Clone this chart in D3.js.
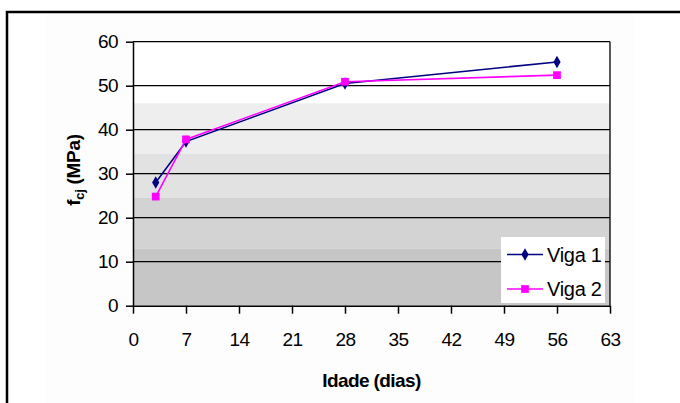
<!DOCTYPE html>
<html><head><meta charset="utf-8">
<script src="https://cdn.jsdelivr.net/npm/d3@7"></script>
<style>body{margin:0;background:#fff}svg{display:block}</style>
</head><body><svg id="c" width="680" height="403"></svg>
<script>
const days = [3, 7, 28, 56];
const viga1 = [28, 37.3, 50.5, 55.4];
const viga2 = [24.8, 37.8, 50.9, 52.4];
const seriesNames = ["Viga 1", "Viga 2"];
const xTicks = [0, 7, 14, 21, 28, 35, 42, 49, 56, 63];
const yTicks = [0, 10, 20, 30, 40, 50, 60];
const bandEdges = [60, 46, 34.5, 24.5, 13, 0];
const bandColors = ["#ffffff", "#eeeeee", "#e2e2e2", "#d3d3d3", "#c6c6c6"];

const svg = d3.select("#c");
const font = "'Liberation Sans', Arial, sans-serif";
const x = d3.scaleLinear().domain([0, 63]).range([133, 610]);
const y = d3.scaleLinear().domain([0, 60]).range([305.7, 41.7]);

// outer frame
svg.append("rect").attr("x", 7).attr("y", 12).attr("width", 700).attr("height", 420)
  .attr("fill", "#fff").attr("stroke", "#000").attr("stroke-width", 2.5);
svg.append("rect").attr("x", 45).attr("y", 14).attr("width", 590).attr("height", 400).attr("fill", "#fdfdfd");

// bands
const g = svg.append("g");
for (let i = 0; i < bandColors.length; i++) {
  g.append("rect").attr("x", x(0)).attr("y", y(bandEdges[i]))
    .attr("width", x(63) - x(0)).attr("height", y(bandEdges[i + 1]) - y(bandEdges[i]))
    .attr("fill", bandColors[i]);
}
// gridlines
g.selectAll("line.grid").data(yTicks.filter(d => d > 0)).join("line")
  .attr("x1", x(0)).attr("x2", x(63)).attr("y1", d => y(d)).attr("y2", d => y(d))
  .attr("stroke", "#000").attr("stroke-width", 1.3);
g.append("line").attr("x1", x(63)).attr("x2", x(63)).attr("y1", y(60)).attr("y2", y(0))
  .attr("stroke", "#000").attr("stroke-width", 1.3);

// axes
const xAxis = d3.axisBottom(x).tickValues(xTicks).tickSize(8).tickPadding(17).tickSizeOuter(0);
const yAxis = d3.axisLeft(y).tickValues(yTicks).tickSize(7).tickPadding(8).tickSizeOuter(0);
const gx = svg.append("g").attr("transform", `translate(0,${y(0)})`).call(xAxis);
const gy = svg.append("g").attr("transform", `translate(${x(0)},0)`).call(yAxis);
[gx, gy].forEach(a => {
  a.selectAll("path,line").attr("stroke", "#000").attr("stroke-width", 1.5);
  a.selectAll("text").attr("font-family", font).attr("font-size", 19).attr("fill", "#000")
    .attr("letter-spacing", -0.6);
});
gx.selectAll("text").attr("dy", "0.71em").attr("y", 27);

// lines
const series = [
  {name: seriesNames[0], vals: viga1, color: "#000080", sym: d3.symbolDiamond, size: 45},
  {name: seriesNames[1], vals: viga2, color: "#ff00ff", sym: d3.symbolSquare, size: 60}
];
const line = d3.line().x(d => x(d[0])).y(d => y(d[1]));
series.forEach(s => {
  const pts = days.map((d, i) => [d, s.vals[i]]);
  svg.append("path").attr("d", line(pts)).attr("fill", "none").attr("stroke", s.color).attr("stroke-width", 1.6);
  svg.selectAll(null).data(pts).join("path")
    .attr("transform", d => `translate(${x(d[0])},${y(d[1])})`)
    .attr("d", d3.symbol().type(s.sym).size(s.size)).attr("fill", s.color);
});

// legend
const lg = svg.append("g");
lg.append("rect").attr("x", 501).attr("y", 237).attr("width", 104).attr("height", 66).attr("fill", "#fff");
series.forEach((s, i) => {
  const yy = 254.5 + i * 34.5;
  lg.append("line").attr("x1", 507).attr("x2", 543).attr("y1", yy).attr("y2", yy)
    .attr("stroke", s.color).attr("stroke-width", 1.6);
  lg.append("path").attr("transform", `translate(525,${yy})`)
    .attr("d", d3.symbol().type(s.sym).size(s.size)).attr("fill", s.color);
  lg.append("text").attr("x", 547).attr("y", yy + 7).text(s.name)
    .attr("font-family", font).attr("font-size", 20).attr("letter-spacing", -0.3).attr("fill", "#000");
});

// axis titles
svg.append("text").attr("x", x(31.5)).attr("y", 387).attr("text-anchor", "middle")
  .attr("font-family", font).attr("font-size", 19).attr("font-weight", "bold").attr("letter-spacing", -0.6)
  .text("Idade (dias)");
const yt = svg.append("text").attr("transform", "translate(80,170) rotate(-90)").attr("text-anchor", "middle")
  .attr("font-family", font).attr("font-size", 19).attr("font-weight", "bold").attr("letter-spacing", -0.3);
yt.append("tspan").text("f");
yt.append("tspan").attr("font-size", 13).attr("dy", 4).text("cj");
yt.append("tspan").attr("dy", -4).text(" (MPa)");
</script></body></html>
